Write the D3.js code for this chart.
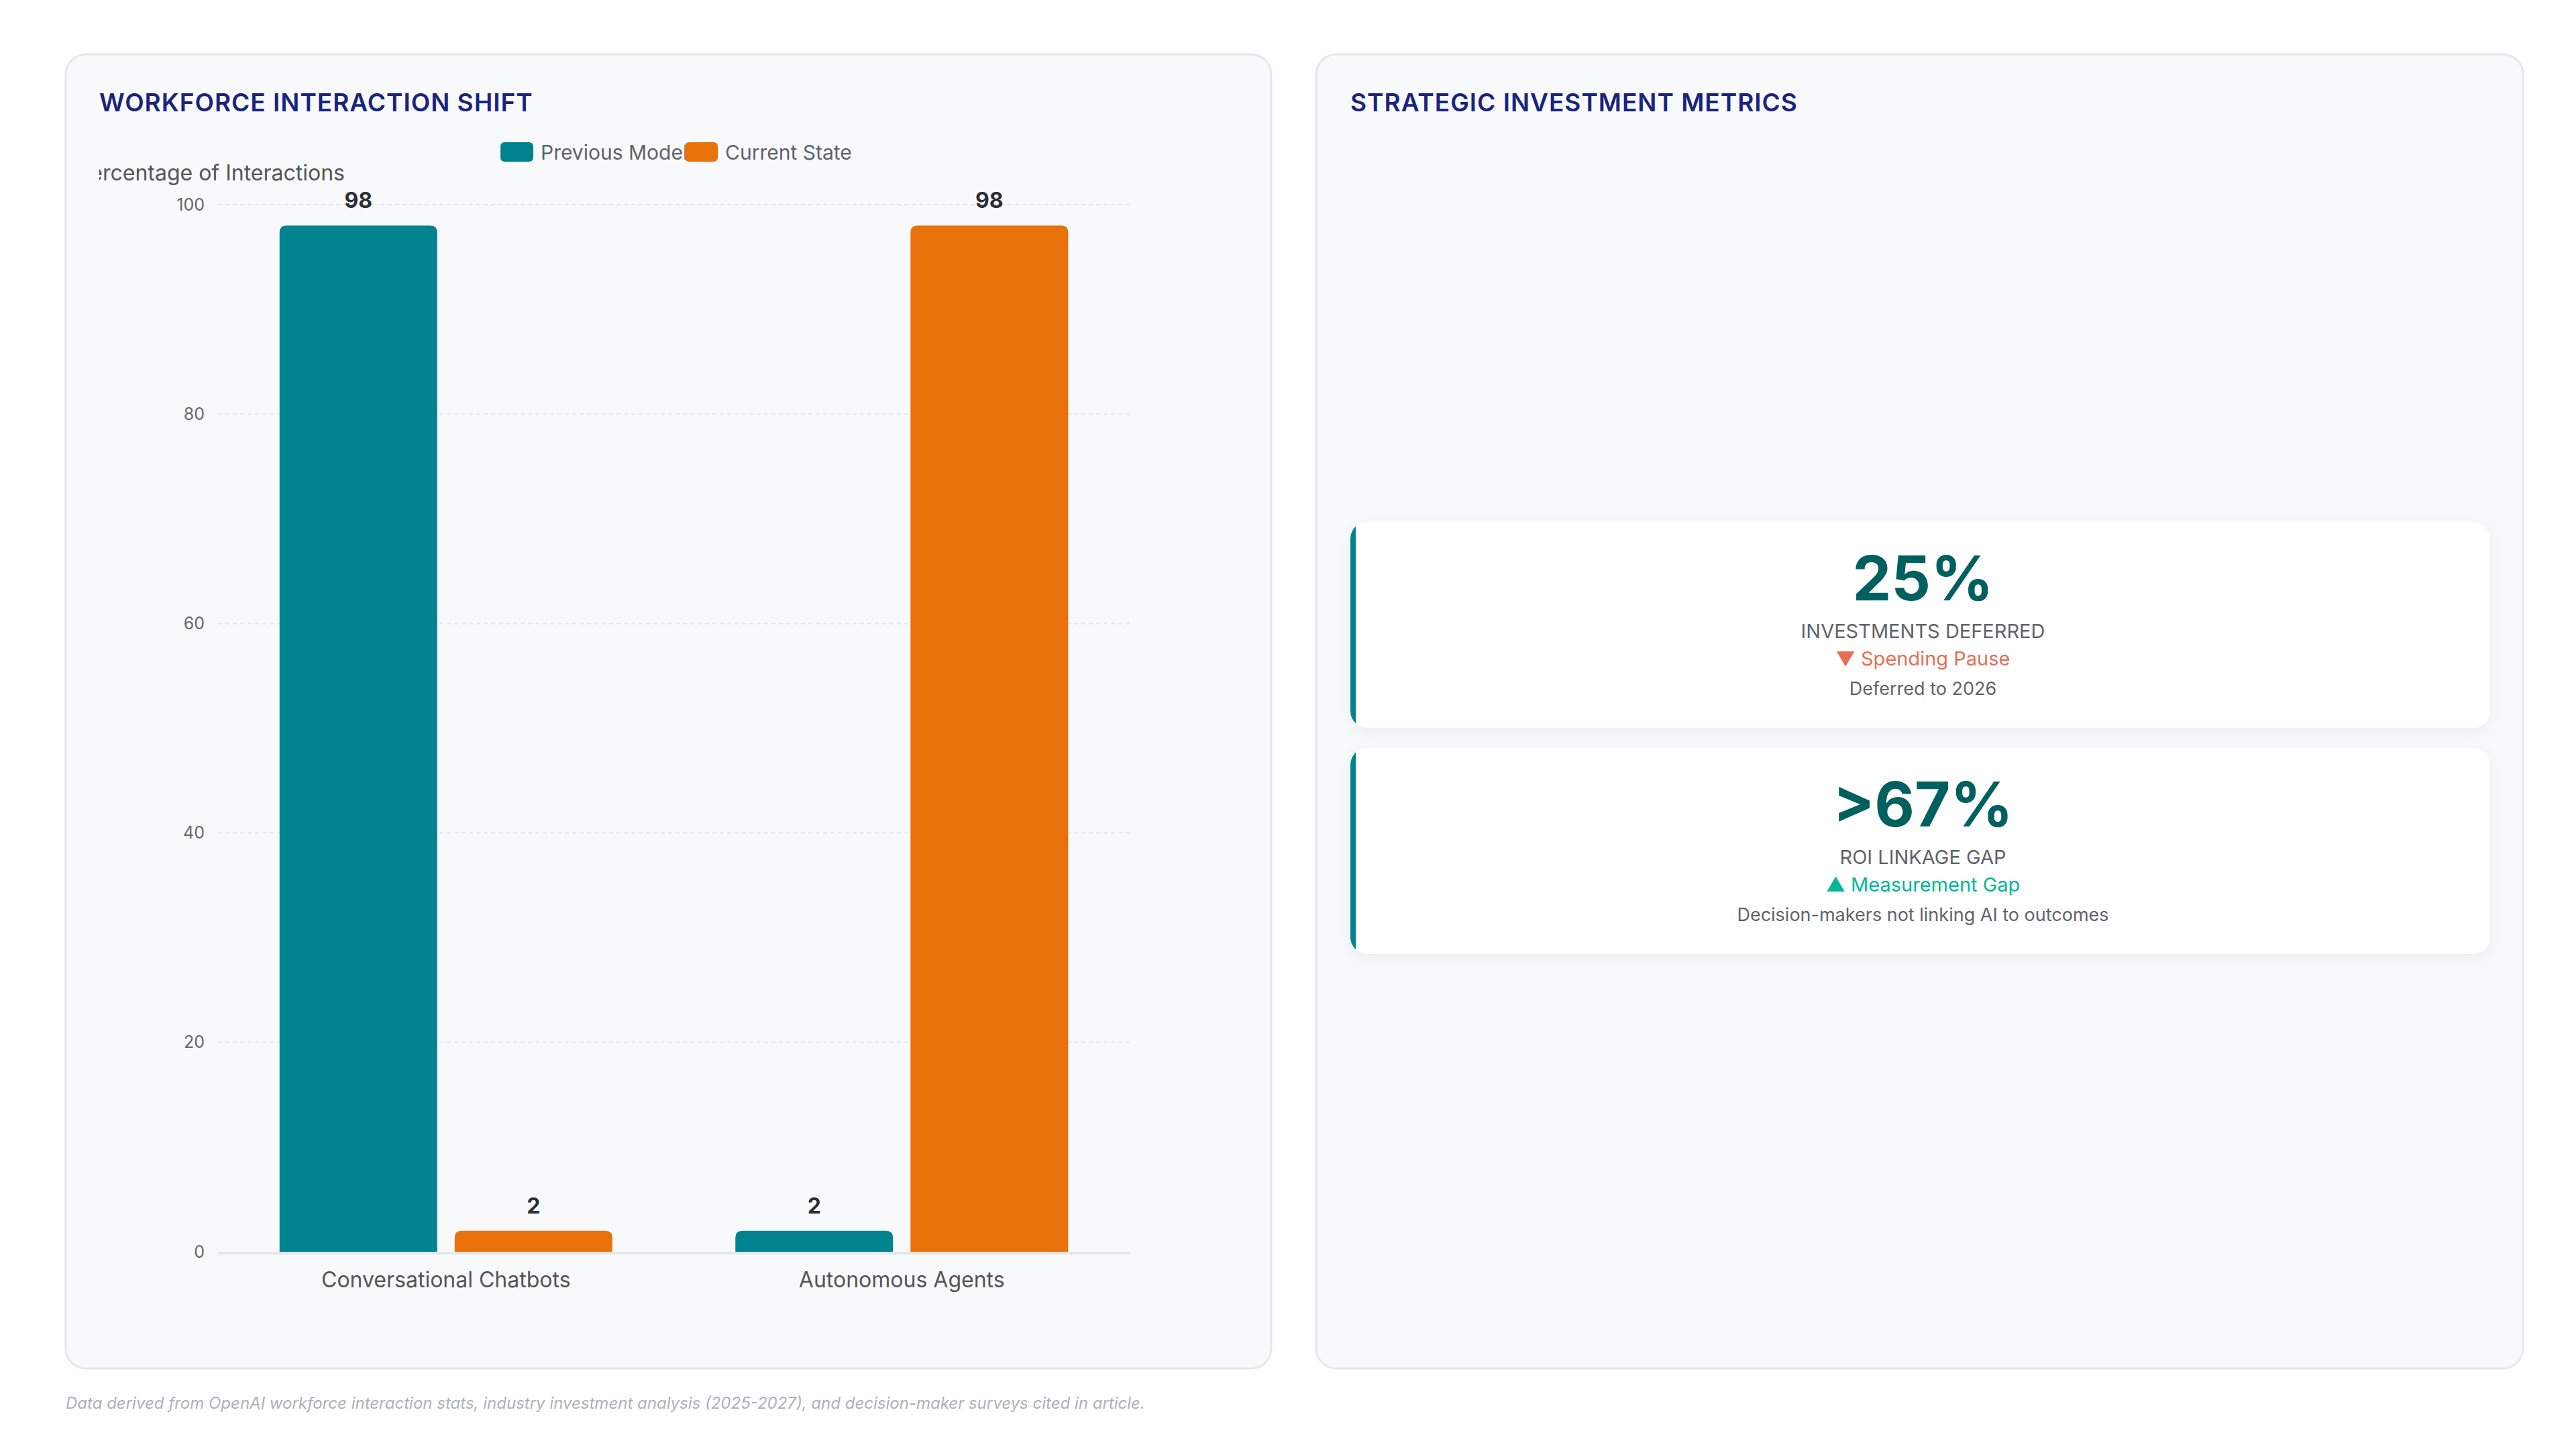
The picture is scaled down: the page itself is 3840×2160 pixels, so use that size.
<!DOCTYPE html>
<html><head><meta charset="utf-8">
<script src="https://cdn.jsdelivr.net/npm/d3@7"></script>
<style>
body{margin:0;background:#fff;font-family:Inter,"Noto Sans",sans-serif;}
</style></head><body>
<svg id="c" width="3840" height="2160"></svg>
<script>
const categories = ["Conversational Chatbots", "Autonomous Agents"];
const seriesNames = ["Previous Model", "Current State"];
const previousModel = [98, 2];
const currentState = [2, 98];
const yTicks = [0, 20, 40, 60, 80, 100];
const seriesColors = ["#00838f", "#e8710a"];
const metricValues = ["25%", ">67%"];
const metricLabels = ["INVESTMENTS DEFERRED", "ROI LINKAGE GAP"];
const metricTrends = ["▼ Spending Pause", "▲ Measurement Gap"];
const trendColors = ["#e76f51", "#00b894"];
const metricSubs = ["Deferred to 2026", "Decision-makers not linking AI to outcomes"];

const svg = d3.select("#c");
const F = "Inter, 'Noto Sans', sans-serif";

// panels
[[98, 1895], [1962, 3761]].forEach(([x0, x1]) => {
  svg.append("rect").attr("x", x0).attr("y", 81).attr("width", x1 - x0).attr("height", 1959)
    .attr("rx", 30).attr("fill", "#f8f9fb").attr("stroke", "#e5e7eb").attr("stroke-width", 3);
});
svg.append("text").attr("x", 148).attr("y", 153).attr("dy", "0.35em").attr("font-family", F)
  .attr("font-size", 37).attr("font-weight", 600).attr("fill", "#1a237e").attr("letter-spacing", 1).text("WORKFORCE INTERACTION SHIFT");
svg.append("text").attr("x", 2013).attr("y", 153).attr("dy", "0.35em").attr("font-family", F)
  .attr("font-size", 37).attr("font-weight", 600).attr("fill", "#1a237e").attr("letter-spacing", 1).text("STRATEGIC INVESTMENT METRICS");

// chart
const x0 = d3.scaleBand().domain(categories).range([325, 1684]).paddingInner(0.27).paddingOuter(0.135);
const x1 = d3.scaleBand().domain(seriesNames).range([0, x0.bandwidth()]).paddingInner(0.1);
const y = d3.scaleLinear().domain([0, 100]).range([1866, 305]);

const g = svg.append("g");
// grid
g.selectAll(".grid").data(yTicks.filter(t => t > 0)).join("line")
  .attr("x1", 325).attr("x2", 1684).attr("y1", d => y(d)).attr("y2", d => y(d))
  .attr("stroke", "#e3e6ea").attr("stroke-width", 2).attr("stroke-dasharray", "6,5");
g.append("line").attr("x1", 325).attr("x2", 1684).attr("y1", y(0) + 2).attr("y2", y(0) + 2)
  .attr("stroke", "#e3e6ea").attr("stroke-width", 4);
const yAxis = g.append("g").attr("transform", "translate(325,0)")
  .call(d3.axisLeft(y).tickValues(yTicks).tickSize(0).tickPadding(20));
yAxis.select(".domain").remove();
yAxis.selectAll("text").attr("font-family", F).attr("font-size", 25).attr("fill", "#666");

const xAxis = g.append("g").attr("transform", "translate(0,1866)")
  .call(d3.axisBottom(x0).tickSize(0).tickPadding(30));
xAxis.select(".domain").remove();
xAxis.selectAll("text").attr("font-family", F).attr("font-size", 32).attr("fill", "#555");

// clipped y-axis title
svg.append("clipPath").attr("id", "yt").append("rect").attr("x", 148).attr("y", 220).attr("width", 600).attr("height", 80);
svg.append("text").attr("clip-path", "url(#yt)").attr("x", 514).attr("y", 258).attr("dy", "0.35em")
  .attr("text-anchor", "end").attr("font-family", F).attr("font-size", 32).attr("fill", "#555").text("Percentage of Interactions");

const data = [previousModel, currentState];
categories.forEach((c, i) => {
  seriesNames.forEach((s, j) => {
    const v = data[j][i];
    const bx = x0(c) + x1(s), bw = x1.bandwidth(), top = y(v), h = y(0) - y(v);
    const r = 10;
    g.append("path").attr("fill", seriesColors[j])
      .attr("d", `M${bx},${top + h}V${top + r}Q${bx},${top} ${bx + r},${top}H${bx + bw - r}Q${bx + bw},${top} ${bx + bw},${top + r}V${top + h}Z`);
    g.append("text").attr("x", bx + bw / 2).attr("y", top - 26).attr("text-anchor", "middle")
      .attr("font-family", F).attr("font-size", 32).attr("font-weight", 700).attr("fill", "#2a2f33").text(v);
  });
});

// legend
const legend = svg.append("g");
const lx = [746, 1021];
seriesNames.forEach((s, j) => {
  legend.append("rect").attr("x", lx[j]).attr("y", 212).attr("width", 49).attr("height", 29).attr("rx", 6).attr("fill", seriesColors[j]);
  legend.append("text").attr("x", lx[j] + 60).attr("y", 227).attr("dy", "0.35em").attr("font-family", F)
    .attr("font-size", 30).attr("fill", "#5f6368").text(s);
});

// metric cards
const defs = svg.append("defs");
const f = defs.append("filter").attr("id", "sh").attr("x", "-5%").attr("y", "-10%").attr("width", "110%").attr("height", "130%");
f.append("feDropShadow").attr("dx", 0).attr("dy", 6).attr("stdDeviation", 10).attr("flood-color", "#000").attr("flood-opacity", 0.05);
const cardY = [778, 1115], cardH = 307;
metricValues.forEach((v, i) => {
  const cy = cardY[i], cx = 2013, cw = 1699;
  defs.append("clipPath").attr("id", "cc" + i).append("rect").attr("x", cx).attr("y", cy).attr("width", cw).attr("height", cardH).attr("rx", 25);
  svg.append("rect").attr("x", cx).attr("y", cy).attr("width", cw).attr("height", cardH).attr("rx", 25).attr("fill", "#fff").attr("filter", "url(#sh)");
  svg.append("rect").attr("clip-path", `url(#cc${i})`).attr("x", cx).attr("y", cy).attr("width", 8).attr("height", cardH).attr("fill", "#00838f");
  const mx = cx + cw / 2 + 4;
  svg.append("text").attr("x", mx).attr("y", cy + 85).attr("dy", "0.35em").attr("text-anchor", "middle").attr("font-family", F)
    .attr("font-size", 92).attr("font-weight", 700).attr("fill", "#00605f").text(v);
  svg.append("text").attr("x", mx).attr("y", cy + 163).attr("dy", "0.35em").attr("text-anchor", "middle").attr("font-family", F)
    .attr("font-size", 29).attr("fill", "#5f6368").text(metricLabels[i]);
  svg.append("text").attr("x", mx).attr("y", cy + 204).attr("dy", "0.35em").attr("text-anchor", "middle").attr("font-family", F)
    .attr("font-size", 29).attr("fill", trendColors[i]).text(metricTrends[i]);
  svg.append("text").attr("x", mx).attr("y", cy + 249).attr("dy", "0.35em").attr("text-anchor", "middle").attr("font-family", F)
    .attr("font-size", 27).attr("fill", "#5f6368").text(metricSubs[i]);
});

svg.append("text").attr("x", 98).attr("y", 2092).attr("dy", "0.35em").attr("font-family", F).attr("font-style", "italic")
  .attr("font-size", 24).attr("fill", "#aab2bb").text("Data derived from OpenAI workforce interaction stats, industry investment analysis (2025-2027), and decision-maker surveys cited in article.");
</script></body></html>
